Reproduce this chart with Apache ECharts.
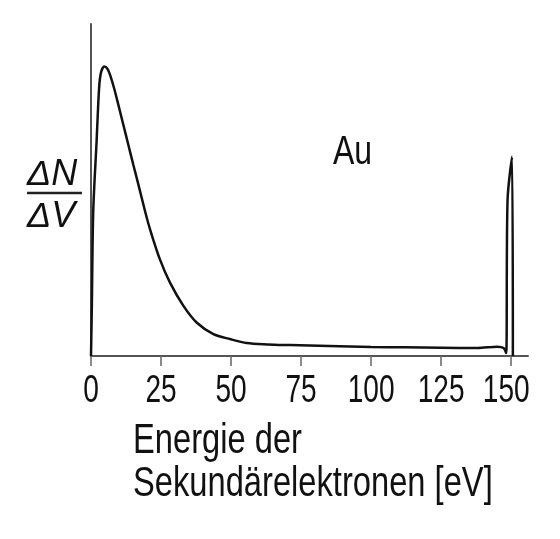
<!DOCTYPE html>
<html>
<head>
<meta charset="utf-8">
<script src="https://cdn.jsdelivr.net/npm/echarts@6/dist/echarts.min.js"></script>
<style>html,body{margin:0;padding:0;background:#fff;}#c{width:560px;height:539px;}</style>
</head>
<body>
<div id="c"></div>
<script>
// Energy of secondary electrons (eV)
const energy = [0, 0.3, 0.8, 2.0, 2.9, 3.6, 4.75, 5.8, 6.8, 8.2, 9.75, 11.5, 13.3, 15.1, 16.9, 19.3, 21.1, 24.6, 28.2, 33.0, 37.7, 43.7, 49.6, 55.6, 63.0, 71.0, 85.0, 100.0, 112.0, 125.0, 138.0, 145.0, 147.3, 148.2, 148.7, 150.3, 150.6];
// dN/dV (arbitrary units)
const intensity = [0, 15, 43.6, 64.7, 80.8, 85.5, 87.2, 86.6, 84.7, 80.8, 75.7, 69.8, 63.7, 57.6, 51.7, 43.6, 38.1, 29.1, 22.1, 15.1, 10.1, 6.6, 5.1, 3.9, 3.5, 3.3, 3.0, 2.7, 2.6, 2.5, 2.4, 2.8, 2.4, 0.9, 47, 60, 0];
const xTicks = [0, 25, 50, 75, 100, 125, 150];
const xTitle = ['Energie der', 'Sekundärelektronen [eV]'];
const yTitleTop = 'ΔN';
const yTitleBottom = 'ΔV';
const element = 'Au';

const chart = echarts.init(document.getElementById('c'), null, {renderer: 'canvas'});
const font = '"Liberation Sans", Arial, sans-serif';
chart.setOption({
  animation: false,
  backgroundColor: '#fff',
  grid: {left: 91, right: 32, top: 24, bottom: 183, containLabel: false},
  xAxis: {
    type: 'value', min: 0, max: 156, interval: 25,
    axisLine: {show: true, lineStyle: {color: '#555', width: 2}},
    axisTick: {show: true, length: 10, lineStyle: {color: '#666', width: 1.5},
      customValues: xTicks},
    axisLabel: {show: false},
    splitLine: {show: false}
  },
  yAxis: {
    type: 'value', min: 0, max: 100,
    axisLine: {show: true, lineStyle: {color: '#555', width: 2}},
    axisTick: {show: false}, axisLabel: {show: false}, splitLine: {show: false}
  },
  series: [{
    type: 'line', data: energy.map((e, i) => [e, intensity[i]]),
    showSymbol: false, smooth: 0.3,
    lineStyle: {color: '#111', width: 2.5}
  }]
});

// condensed tick labels placed through the axis scale
const tickGraphics = xTicks.map(v => {
  const p = chart.convertToPixel({xAxisIndex: 0, yAxisIndex: 0}, [v, 0]);
  const shift = v === 150 ? -5 : 0;
  return {
    type: 'text', x: p[0] + shift, y: 391, scaleX: 0.72, silent: true,
    style: {text: String(v), font: '39px ' + font, fill: '#111', align: 'center', verticalAlign: 'middle'}
  };
});

chart.setOption({
  graphic: tickGraphics.concat([
    {type: 'text', x: 133, y: 441.5, scaleX: 0.76, style: {text: xTitle[0], font: '43px ' + font, fill: '#111', align: 'left', verticalAlign: 'middle'}},
    {type: 'text', x: 133, y: 484.5, scaleX: 0.76, style: {text: xTitle[1], font: '43px ' + font, fill: '#111', align: 'left', verticalAlign: 'middle'}},
    {type: 'text', x: 27, y: 175, style: {text: yTitleTop, font: 'italic 36px ' + font, fill: '#111', align: 'left', verticalAlign: 'middle'}},
    {type: 'line', shape: {x1: 27, y1: 193, x2: 82, y2: 193}, style: {stroke: '#222', lineWidth: 2.5}},
    {type: 'text', x: 27, y: 217, style: {text: yTitleBottom, font: 'italic 36px ' + font, fill: '#111', align: 'left', verticalAlign: 'middle'}},
    {type: 'text', x: 333, y: 152.5, scaleX: 0.8, style: {text: element, font: '40px ' + font, fill: '#111', align: 'left', verticalAlign: 'middle'}}
  ])
});
</script>
</body>
</html>
